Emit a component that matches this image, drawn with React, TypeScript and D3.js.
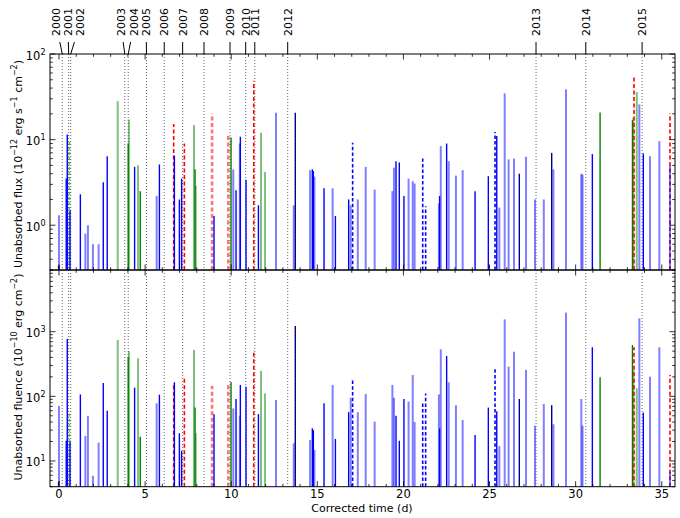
import React from "react";
import * as d3 from "d3";

// ---------- data ----------
const years = ["2000","2001","2002","2003","2004","2005","2006","2007","2008","2009","2010","2011","2012","2013","2014","2015"];
const yearDays = [0.19, 0.56, 0.68, 3.82, 4.02, 5.08, 6.11, 7.18, 8.42, 9.93, 10.84, 11.37, 13.28, 27.70, 30.59, 33.86];
const yearLabelDays = [-0.17, 0.52, 1.22, 3.58, 4.36, 5.06, 6.11, 7.18, 8.42, 9.93, 10.84, 11.37, 13.28, 27.70, 30.59, 33.86];

const eventDays = [
  -0.02, 0.00, 0.42, 0.48, 0.60, 0.64, 1.24, 1.53, 1.68, 1.97, 2.30, 2.57, 2.80, 3.41, 4.02, 4.06, 4.39, 4.59, 4.72,
  5.67, 5.83, 6.66, 6.70, 6.99, 7.12, 7.28, 7.84, 7.90, 7.94, 8.89, 9.00, 9.83, 9.99, 10.12, 10.28, 10.50, 10.53,
  10.86, 11.31, 11.58, 11.73, 11.96, 12.60, 13.63, 13.72, 14.58, 14.71, 14.77, 14.83, 15.39, 15.89, 16.05, 16.82,
  16.94, 17.05, 17.35, 17.81, 18.33, 19.36, 19.45, 19.57, 19.76, 20.03, 20.30, 20.54, 20.65, 21.12, 21.29, 22.06,
  22.10, 22.17, 22.51, 22.63, 23.05, 23.44, 24.16, 24.93, 25.32, 25.42, 25.57, 25.88, 26.11, 26.42, 26.73, 27.12,
  27.64, 28.15, 28.61, 28.71, 29.44, 30.33, 30.40, 30.97, 31.42, 33.30, 33.35, 33.39, 33.55, 33.70, 33.93, 34.32,
  34.86, 35.48, 35.48
];
const fluxValues = [
  0.34, 1.31, 3.52, 11.5, 9.9, 1.5, 2.3, 0.80, 1.0, 0.6, 0.6, 3.18, 6.4, 28.2, 9.0, 17.2, 4.8, 5.0, 2.5,
  2.2, 5.13, 15.2, 6.5, 2.0, 3.5, 9.0, 14.8, 4.5, 2.9, 20.2, 1.28, 11.6, 10.6, 4.5, 2.57, 9.0, 10.8,
  3.4, 48.7, 1.71, 12.0, 4.2, 20.6, 1.71, 20.6, 4.4, 4.5, 4.3, 3.7, 2.7, 2.7, 1.28, 2.0,
  1.71, 9.2, 2.0, 4.8, 2.6, 2.5, 4.7, 5.6, 5.4, 2.2, 3.5, 3.27, 3.07, 6.0, 1.67, 1.8,
  2.2, 8.4, 9.0, 5.6, 3.8, 4.4, 2.5, 3.74, 12.3, 11.0, 1.61, 34.7, 5.87, 6.0, 4.0, 6.3,
  2.0, 2.0, 7.0, 4.5, 38.7, 4.0, 3.9, 6.77, 20.8, 16.9, 18.0, 54, 36, 25.8, 6.9, 6.4,
  9.6, 20.2, 5.0
];
const fluenceValues = [
  4.8, 71, 20.6, 771, 58, 20, 107, 24.4, 50, 5.9, 19.2, 161, 60, 745, 410, 497, 136, 387, 23.8,
  78, 106, 150, 165, 26.8, 14.3, 190, 521, 67, 27, 145, 53, 153, 167, 65, 91, 50, 150,
  141, 521, 53, 247, 111, 88, 18.8, 1225, 21.1, 32, 30, 14.8, 78, 150, 21.9, 57,
  95, 185, 57, 109, 40.5, 150, 95, 50, 20.6, 91, 83, 214, 40, 83, 111, 107,
  32, 535, 421, 165, 73, 43, 25.2, 67, 265, 59, 17, 1550, 288, 490, 91, 256,
  35, 76, 73, 37, 1970, 91, 35, 574, 197, 622, 256, 574, 133, 1610, 56, 201,
  574, 214, 6.8
];
const eventStyles = [
  "k", "lb", "b", "b", "lgd", "b", "b", "lb", "lb", "lb", "lb", "b", "b", "lg", "g", "lg", "b", "lg", "g",
  "lb", "b", "rd", "b", "b", "b", "rd", "lg", "g", "lg", "lrd", "b", "lrd", "g", "lb", "b", "lb", "b",
  "b", "rd", "b", "lg", "lg", "lb", "lb", "nb", "lb", "b", "b", "lb", "b", "lb", "b", "b",
  "lb", "bd", "lb", "lb", "lb", "lb", "lb", "b", "b", "b", "lb", "lb", "lb", "bd", "bd", "lb",
  "b", "lb", "b", "lb", "lb", "lb", "b", "b", "bd", "b", "lb", "lb", "lb", "lb", "nb", "lb",
  "lb", "lb", "nb", "lb", "lb", "lb", "lb", "b", "g", "g", "lg", "rd", "lg", "lb", "b", "lb",
  "lb", "rd", "lb"
];

const xTickValues = [0, 5, 10, 15, 20, 25, 30, 35];
const fluxTickExps = [0, 1, 2];
const fluenceTickExps = [1, 2, 3];

// ---------- styles ----------
const STY: Record<string, { stroke: string; width: number; dash?: string; opacity?: number }> = {
  b: { stroke: "#0000ff", width: 1.4 },
  lb: { stroke: "#0000ff", width: 2, opacity: 0.5 },
  nb: { stroke: "#00008b", width: 1.4 },
  bd: { stroke: "#0000ff", width: 1.6, dash: "3.5,2.2" },
  g: { stroke: "#008000", width: 1.4 },
  lg: { stroke: "#008000", width: 2, opacity: 0.5 },
  lgd: { stroke: "#008000", width: 1.8, dash: "3,2", opacity: 0.55 },
  rd: { stroke: "#ff0000", width: 1.6, dash: "4,2.5" },
  lrd: { stroke: "#ff0000", width: 2.6, dash: "4,2.5", opacity: 0.55 },
  k: { stroke: "#333333", width: 1.6 },
};

const FONT = "DejaVu Sans, sans-serif";
const L = 50, R = 675, T = 54, M = 270, B = 486.7;

function logTicks(domain: [number, number]) {
  const out: { v: number; major: boolean }[] = [];
  const k0 = Math.floor(Math.log10(domain[0]));
  const k1 = Math.ceil(Math.log10(domain[1]));
  for (let k = k0; k <= k1; k++) {
    for (let m = 1; m <= 9; m++) {
      const v = m * Math.pow(10, k);
      if (v >= domain[0] * 0.9999 && v <= domain[1] * 1.0001) out.push({ v, major: m === 1 });
    }
  }
  return out;
}

export default function App() {
  const x = d3.scaleLinear().domain([-0.523, 35.77]).range([L, R]);
  const yTop = d3.scaleLog().domain([0.3, 100]).range([M, T]);
  const yBot = d3.scaleLog().domain([4, 9000]).range([B, M]);

  const panels = [
    { y: yTop, top: T, bottom: M, vals: fluxValues, exps: fluxTickExps, dom: [0.3, 100] as [number, number] },
    { y: yBot, top: M, bottom: B, vals: fluenceValues, exps: fluenceTickExps, dom: [4, 9000] as [number, number] },
  ];

  const minorX = d3.range(0, 36);

  return (
    <svg width={680} height={518} style={{ display: "block", position: "absolute", left: 0, top: 0 }} fontFamily={FONT}>
      <rect width={680} height={518} fill="#fff" />
      {/* year dotted lines */}
      {yearDays.map((d, i) => (
        <line key={"yl" + i} x1={x(d)} x2={x(d)} y1={T} y2={B} stroke="#666" strokeWidth={1} strokeDasharray="1,2" />
      ))}
      {panels.map((p, pi) => (
        <g key={"p" + pi}>
          {eventDays.map((d, i) => {
            const s = STY[eventStyles[i]];
            return (
              <line
                key={i}
                x1={x(d)}
                x2={x(d)}
                y1={p.bottom}
                y2={p.y(p.vals[i])}
                stroke={s.stroke}
                strokeWidth={s.width}
                strokeDasharray={s.dash}
                strokeOpacity={s.opacity ?? 1}
              />
            );
          })}
          {/* frame */}
          <rect x={L} y={p.top} width={R - L} height={p.bottom - p.top} fill="none" stroke="#000" strokeWidth={1} />
          {/* x ticks */}
          {minorX.map((d) => {
            const len = d % 5 === 0 ? 5.5 : 2.8;
            const xx = x(d);
            return (
              <g key={"xt" + d}>
                <line x1={xx} x2={xx} y1={p.bottom} y2={p.bottom - len} stroke="#000" strokeWidth={0.8} />
                <line x1={xx} x2={xx} y1={p.top} y2={p.top + len} stroke="#000" strokeWidth={0.8} />
              </g>
            );
          })}
          {/* y ticks */}
          {logTicks(p.dom).map((t, ti) => {
            const yy = p.y(t.v);
            const len = t.major ? 5.5 : 2.8;
            return (
              <g key={"ytk" + ti}>
                <line x1={L} x2={L + len} y1={yy} y2={yy} stroke="#000" strokeWidth={0.8} />
                <line x1={R} x2={R - len} y1={yy} y2={yy} stroke="#000" strokeWidth={0.8} />
              </g>
            );
          })}
          {p.exps.map((e) => (
            <text key={"yl" + e} x={45.5} y={p.y(Math.pow(10, e)) + 5.5} fontSize={11.5} textAnchor="end" fill="#000">
              <tspan>10</tspan>
              <tspan dy={-5} fontSize={8}>{String(e)}</tspan>
            </text>
          ))}
        </g>
      ))}
      {/* x tick labels */}
      {xTickValues.map((v) => (
        <text key={"xl" + v} x={x(v)} y={497.5} fontSize={11.5} textAnchor="middle" fill="#000">{String(v)}</text>
      ))}
      <text x={362} y={511.5} fontSize={11} textAnchor="middle" fill="#000">Corrected time (d)</text>
      {/* y axis titles */}
      <text transform="translate(21.5,164) rotate(-90)" fontSize={11} textAnchor="middle" fill="#000">
        <tspan>Unabsorbed flux (10</tspan>
        <tspan dy={-4.5} fontSize={8}>−12</tspan>
        <tspan dy={4.5}>{" erg s"}</tspan>
        <tspan dy={-4.5} fontSize={8}>−1</tspan>
        <tspan dy={4.5}>{" cm"}</tspan>
        <tspan dy={-4.5} fontSize={8}>−2</tspan>
        <tspan dy={4.5}>)</tspan>
      </text>
      <text transform="translate(21.5,377) rotate(-90)" fontSize={11} textAnchor="middle" fill="#000">
        <tspan>Unabsorbed fluence (10</tspan>
        <tspan dy={-4.5} fontSize={8}>−10</tspan>
        <tspan dy={4.5}>{" erg cm"}</tspan>
        <tspan dy={-4.5} fontSize={8}>−2</tspan>
        <tspan dy={4.5}>)</tspan>
      </text>
      {/* year ticks and labels */}
      {years.map((yr, i) => {
        const lx = x(yearLabelDays[i]);
        const dx = x(yearDays[i]);
        const topX = dx + (lx - dx) * 0.4;
        return (
          <g key={"yr" + yr}>
            <line x1={topX} y1={42} x2={dx} y2={T} stroke="#000" strokeWidth={1} />
            <text transform={`translate(${lx + 4},36) rotate(-90)`} fontSize={11} textAnchor="start" fill="#000">{yr}</text>
          </g>
        );
      })}
    </svg>
  );
}
